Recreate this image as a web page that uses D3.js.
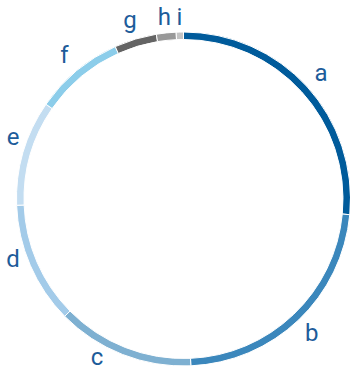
<!DOCTYPE html>
<html>
<head>
<meta charset="utf-8">
<script src="https://cdn.jsdelivr.net/npm/d3@7"></script>
<style>
  body { margin: 0; background: #fff; }
  svg text { font-family: Roboto, "DejaVu Sans Condensed", sans-serif; }
</style>
</head>
<body>
<svg id="chart" width="350" height="371"></svg>
<script>
let labels = ["a", "b", "c", "d", "e", "f", "g", "h", "i"];
let values = [26.5, 22.8, 13.3, 11.8, 10.2, 8.7, 4.1, 1.9, 0.7];
let colors = ["#005b9b", "#3b87bc", "#7eb0d1", "#a3cbe9", "#c3ddf1", "#8ccdea", "#646464", "#999999", "#c4c4c4"];

let width = 350, height = 371;
let cx = 183.5, cy = 199;
let outerR = 167, innerR = 159.5;
let labelR = 186, slideR = 181;

let svg = d3.select("#chart");
let g = svg.append("g").attr("transform", "translate(" + cx + "," + cy + ")");

let pie = d3.pie().sort(null).value(function (d) { return d; });
let arcs = pie(values);

let arc = d3.arc().innerRadius(innerR).outerRadius(outerR);
let labelArc = d3.arc().innerRadius(labelR).outerRadius(labelR);

g.selectAll("path")
  .data(arcs)
  .enter()
  .append("path")
  .attr("d", arc)
  .attr("fill", function (d, i) { return colors[i]; })
  .attr("stroke", "#fff")
  .attr("stroke-width", 1);

// keep labels inside the svg: slide along the circle if they overflow a side/bottom
function labelPos(d) {
  let p = labelArc.centroid(d);
  let x = p[0], y = p[1];
  let minX = 13 - cx, maxX = width - 13 - cx;
  let minY = 18 - cy, maxY = height - 13 - cy;
  if (x < minX || x > maxX) {
    x = Math.max(minX, Math.min(maxX, x));
    y = Math.sign(y) * Math.sqrt(Math.max(0, slideR * slideR - x * x));
  }
  if (y > maxY) {
    y = maxY;
    x = Math.sign(x) * Math.sqrt(Math.max(0, slideR * slideR - y * y));
  }
  if (y < minY) y = minY;
  return [x, y];
}

g.selectAll("text")
  .data(arcs)
  .enter()
  .append("text")
  .attr("transform", function (d) { return "translate(" + labelPos(d) + ")"; })
  .attr("text-anchor", "middle")
  .attr("dy", "0.3em")
  .attr("font-size", 24)
  .attr("fill", "#1d5c9a")
  .text(function (d, i) { return labels[i]; });
</script>
</body>
</html>
